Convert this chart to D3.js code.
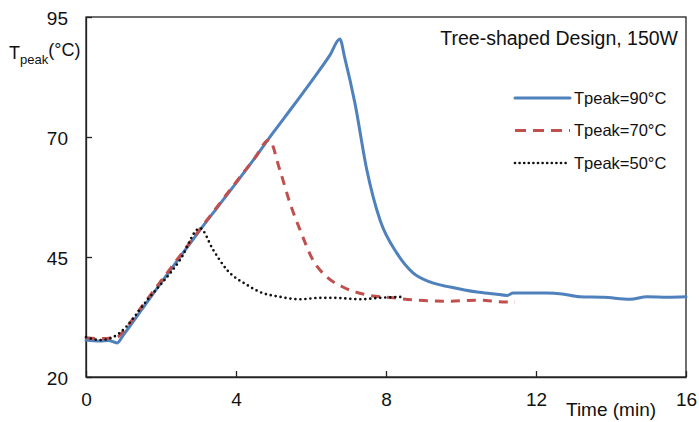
<!DOCTYPE html>
<html>
<head>
<meta charset="utf-8">
<script src="https://cdn.jsdelivr.net/npm/d3@7"></script>
<style>
  body { margin: 0; background: #fff; }
  text { font-family: "Liberation Sans", Arial, sans-serif; fill: #111; }
</style>
</head>
<body>
<div id="chart"></div>
<script>
// Data: [time (min), Tpeak (°C)]
const peak90 = [
  [0, 27.7], [0.37, 27.5], [0.6, 27.6], [0.83, 27.1], [1.0, 28.8], [1.5, 34.2],
  [2.0, 39.6], [2.5, 44.9], [3.0, 50.2], [3.5, 55.3], [4.0, 60.4], [4.5, 65.6],
  [5.0, 71.0], [5.5, 76.2], [6.0, 81.5], [6.5, 87.0], [6.77, 90.4],
  [6.9, 86.5], [7.17, 77.1], [7.49, 63.1], [7.84, 52.7],
  [8.29, 45.8], [8.72, 41.7], [9.17, 39.8],
  [9.71, 38.75], [10.43, 37.7], [10.9, 37.3], [11.23, 37.0], [11.39, 37.5],
  [12.29, 37.5], [12.7, 37.3], [13.17, 36.7], [13.8, 36.6], [14.51, 36.2],
  [14.96, 36.7], [15.5, 36.6], [16.0, 36.7]
];
const peak70 = [
  [0, 28.2], [0.4, 28.0], [0.83, 28.3], [1.0, 29.6], [1.5, 34.8], [2.0, 40.0],
  [2.5, 45.2], [3.0, 50.4], [3.5, 55.5], [4.0, 60.6], [4.5, 65.6], [4.88, 69.4],
  [5.17, 63.1], [5.44, 56.2], [5.71, 50.6], [6.05, 44.4], [6.43, 40.8],
  [6.85, 38.75], [7.49, 37.1], [8.19, 36.5], [8.83, 36.0], [9.63, 35.8],
  [10.51, 36.0], [11.0, 35.7], [11.44, 35.6]
];
const peak50 = [
  [0, 28.3], [0.37, 27.7], [0.72, 28.3], [0.9, 29.2], [1.63, 36.0], [2.51, 44.4],
  [3.04, 51.0], [3.39, 46.5], [3.76, 42.3], [4.29, 39.2], [4.64, 37.7],
  [5.17, 36.7], [5.71, 36.2], [6.24, 36.5], [6.59, 36.5], [7.31, 36.2],
  [7.84, 36.5], [8.45, 36.7]
];
const xTicks = [0, 4, 8, 12, 16];
const yTicks = [20, 45, 70, 95];
const seriesNames = ["Tpeak=90°C", "Tpeak=70°C", "Tpeak=50°C"];

const width = 699, height = 422;
const margin = { top: 17, right: 13, bottom: 45, left: 86 };

const svg = d3.select("#chart").append("svg")
  .attr("width", width).attr("height", height);

const x = d3.scaleLinear().domain([0, 16]).range([margin.left, width - margin.right]);
const y = d3.scaleLinear().domain([20, 95]).range([height - margin.bottom, margin.top]);

// frame
svg.append("rect")
  .attr("x", x(0)).attr("y", y(95))
  .attr("width", x(16) - x(0)).attr("height", y(20) - y(95))
  .attr("fill", "none").attr("stroke", "#222").attr("stroke-width", 1.3);

// axes with inside ticks
const xAxis = svg.append("g")
  .attr("transform", `translate(0,${y(20)})`)
  .call(d3.axisBottom(x).tickValues(xTicks).tickSize(-6).tickPadding(14).tickSizeOuter(0));
const yAxis = svg.append("g")
  .attr("transform", `translate(${x(0)},0)`)
  .call(d3.axisLeft(y).tickValues(yTicks).tickSize(-6).tickPadding(18).tickSizeOuter(0));

[xAxis, yAxis].forEach(g => {
  g.select(".domain").attr("stroke", "#222").attr("stroke-width", 1.3);
  g.selectAll(".tick line").attr("stroke", "#222").attr("stroke-width", 1.3);
  g.selectAll(".tick text")
    .style("font-family", "'Liberation Sans', Arial, sans-serif")
    .style("font-size", "19px").attr("fill", "#111");
});
yAxis.selectAll(".tick text").attr("dy", "0.42em");
xAxis.selectAll(".tick text").attr("dy", "0.78em");

const line = d3.line().x(d => x(d[0])).y(d => y(d[1])).curve(d3.curveMonotoneX);

const styles = [
  { stroke: "#4f81bd", width: 3, dash: null, cap: "round" },
  { stroke: "#c0504d", width: 3, dash: "9,7", cap: "butt" },
  { stroke: "#111", width: 2.7, dash: "0,5", cap: "round" }
];
[peak90, peak70, peak50].forEach((data, i) => {
  svg.append("path")
    .datum(data)
    .attr("d", line)
    .attr("fill", "none")
    .attr("stroke", styles[i].stroke)
    .attr("stroke-width", styles[i].width)
    .attr("stroke-linecap", styles[i].cap)
    .attr("stroke-linejoin", "round")
    .attr("stroke-dasharray", styles[i].dash);
});

// legend
const legend = svg.append("g");
seriesNames.forEach((name, i) => {
  const ly = 98 + i * 32.5;
  legend.append("line")
    .attr("x1", 515).attr("x2", 570).attr("y1", ly).attr("y2", ly)
    .attr("stroke", styles[i].stroke)
    .attr("stroke-width", styles[i].width)
    .attr("stroke-linecap", styles[i].cap)
    .attr("stroke-dasharray", i === 1 ? "11,7" : i === 2 ? "0,4.6" : null);
  legend.append("text")
    .attr("x", 574).attr("y", ly).attr("dy", "0.36em")
    .style("font-size", "16.5px")
    .text(name);
});

// title inside plot
svg.append("text")
  .attr("x", 678).attr("y", 38).attr("dy", "0.36em")
  .attr("text-anchor", "end")
  .style("font-size", "19.5px")
  .text("Tree-shaped Design, 150W");

// axis titles
const yTitle = svg.append("text")
  .attr("x", 9).attr("y", 53).attr("dy", "0.36em")
  .style("font-size", "18px");
yTitle.append("tspan").text("T");
yTitle.append("tspan").attr("dy", "0.35em").style("font-size", "13px").text("peak");
yTitle.append("tspan").attr("dy", "-0.45em").text("(°C)");

svg.append("text")
  .attr("x", 566).attr("y", 409).attr("dy", "0.36em")
  .style("font-size", "19px")
  .text("Time (min)");
</script>
</body>
</html>
